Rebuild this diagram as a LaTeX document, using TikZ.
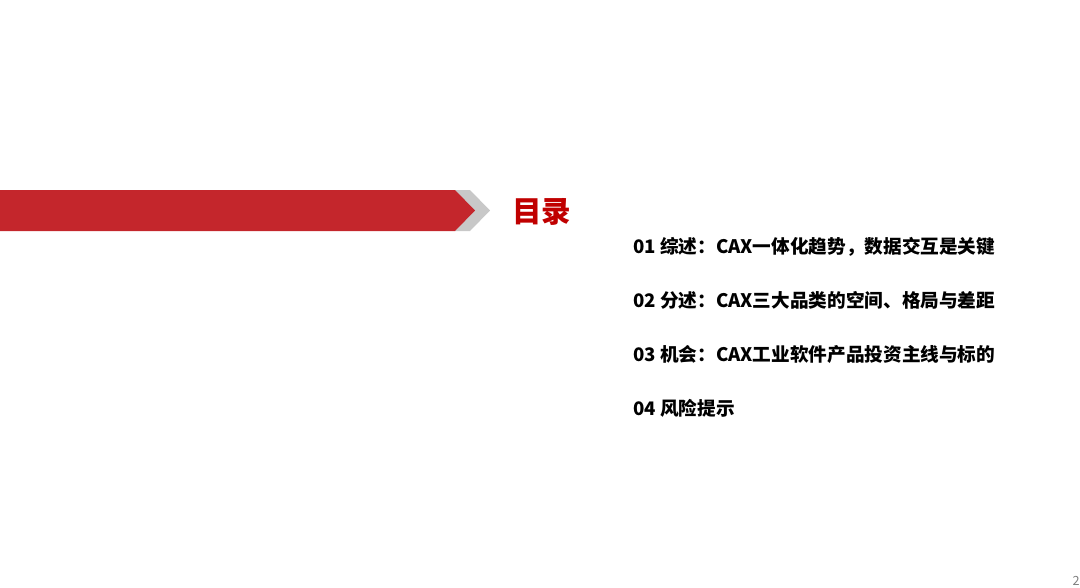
\documentclass[tikz,border=0pt]{standalone}
\usepackage{fontspec}
\newfontfamily\cjk{Noto Sans CJK SC}
\definecolor{barred}{RGB}{196,38,44}
\definecolor{chevgray}{RGB}{200,200,200}
\definecolor{titlered}{RGB}{192,0,0}
\tikzset{
  item/.style={anchor=west, inner sep=0pt, font=\cjk\bfseries\fontsize{13.25}{15}\selectfont},
}
\begin{document}
\begin{tikzpicture}[x=0.025cm, y=-0.025cm]
                \useasboundingbox (0,0) rectangle (1080,587);
                % chevron and bar
                \fill[chevgray] (455,190) -- (470,190) -- (490,210.5) -- (470,231) -- (455,231) -- cycle;
                \fill[barred] (0,190) -- (455,190) -- (475,210.5) -- (455,231) -- (0,231) -- cycle;
                \node[anchor=west, inner sep=0pt, text=titlered, font=\cjk\bfseries\fontsize{21}{24}\selectfont]
                        (title) at (512,212) {目录};

                \node[item] (s1) at (633,247) {01 综述：CAX一体化趋势，数据交互是关键};
                \node[item] (s2) at (633,300) {02 分述：CAX三大品类的空间、格局与差距};
                \node[item] (s3) at (633,354) {03 机会：CAX工业软件产品投资主线与标的};
                \node[item] (s4) at (633,408) {04 风险提示};

                \node[anchor=east, inner sep=0pt, text=gray, font=\cjk\fontsize{9}{10}\selectfont]
                        (page) at (1080,581) {2};
\end{tikzpicture}
\end{document}
